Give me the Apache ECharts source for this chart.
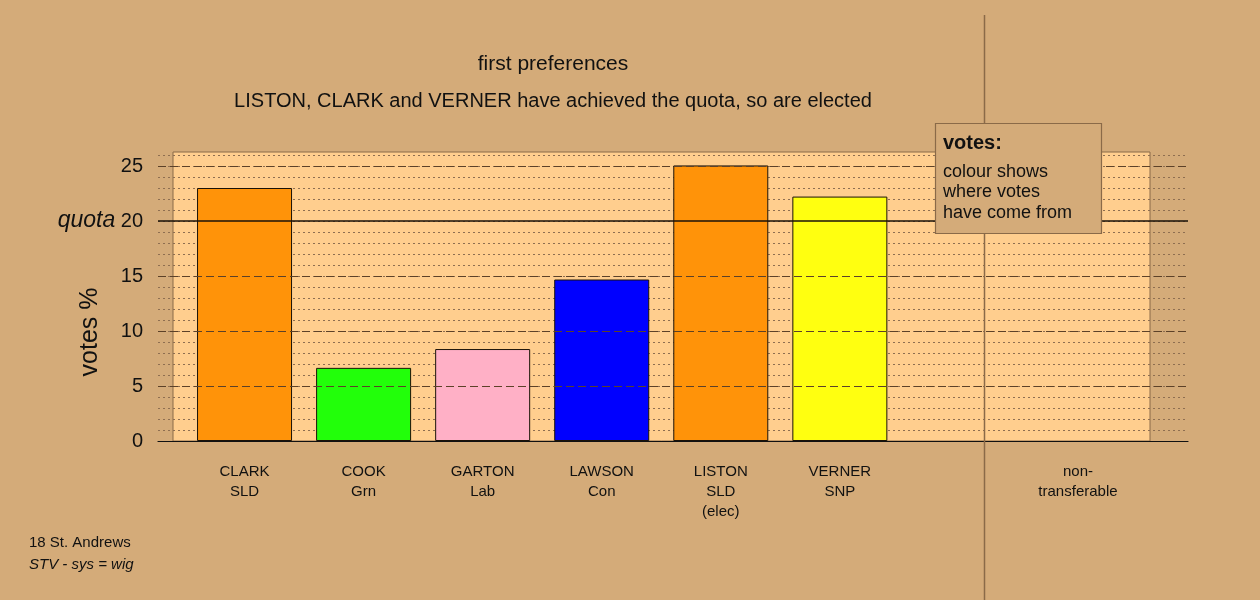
<!DOCTYPE html>
<html>
<head>
<meta charset="utf-8">
<script src="https://cdn.jsdelivr.net/npm/echarts@6/dist/echarts.min.js"></script>
<style>
html,body{margin:0;padding:0;background:#D4AB79;}
#chart{width:1260px;height:600px;}
</style>
</head>
<body>
<div id="chart"></div>
<script>
// ---- data ----
var candidates = ['CLARK\nSLD', 'COOK\nGrn', 'GARTON\nLab', 'LAWSON\nCon', 'LISTON\nSLD\n(elec)', 'VERNER\nSNP', '', 'non-\ntransferable'];
var votes = [23.0, 6.65, 8.36, 14.68, 25.05, 22.22, null, null];
var barColors = ['#FF9309', '#22FF0A', '#FFB0C6', '#0000FF', '#FF9309', '#FFFF10', '#FFFFFF', '#FFFFFF'];
var yTickValues = [0, 5, 10, 15, 20, 25];
var dashedLines = [5, 10, 15, 25];
var quota = 20;
var titleText = 'first preferences';
var subtitleText = 'LISTON, CLARK and VERNER have achieved the quota, so are elected';
var yAxisTitle = 'votes %';
var footer1 = '18 St. Andrews';
var footer2 = 'STV - sys = wig';
var legendTitle = 'votes:';
var legendLines = ['colour shows', 'where votes', 'have come from'];

var BG = '#D4AB79';
var PANEL = '#FFCE8E';
var BROWN = '#8A6A48';
var FONT = '"Liberation Sans", Arial, Helvetica, sans-serif';

var chart = echarts.init(document.getElementById('chart'));

var markData = dashedLines.map(function (v) {
  return { yAxis: v, lineStyle: { type: [8, 4], color: '#5C4128', width: 1 } };
});
markData.push({ yAxis: quota, lineStyle: { type: 'solid', color: '#1a1208', width: 1.6 } });

var option = {
  backgroundColor: BG,
  animation: false,
  textStyle: { fontFamily: FONT },
  grid: [
    { left: 173, right: 110, top: 152, bottom: 159, show: true, backgroundColor: PANEL, borderColor: BROWN, borderWidth: 1 },
    { left: 158, right: 72, top: 155, bottom: 159 },
    { left: 185, right: 122.5, top: 155, bottom: 159 }
  ],
  xAxis: [
    { gridIndex: 0, type: 'value', min: 0, max: 1, show: false },
    { gridIndex: 1, type: 'value', min: 0, max: 1, z: 1,
      axisLine: { show: true, onZero: false, lineStyle: { color: '#111', width: 1.2 } },
      axisTick: { show: false }, axisLabel: { show: false }, splitLine: { show: false } },
    { gridIndex: 2, type: 'category', data: candidates,
      axisLine: { show: false }, axisTick: { show: false }, splitLine: { show: false },
      axisLabel: { interval: 0, margin: 21, fontSize: 15, lineHeight: 20, color: '#111', fontFamily: FONT } }
  ],
  yAxis: [
    { gridIndex: 0, type: 'value', min: 0, max: 1, show: false },
    { gridIndex: 1, type: 'value', min: 0, max: 26, interval: 1, z: 1,
      axisLine: { show: false }, axisTick: { show: false },
      splitLine: { show: true, lineStyle: { type: [2, 3], color: '#8E6E50', width: 1 } },
      axisLabel: {
        margin: 15, fontSize: 20, color: '#111', fontFamily: FONT,
        formatter: function (v) {
          if (v === quota) return '{q|quota} ' + v;
          return yTickValues.indexOf(v) >= 0 ? String(v) : '';
        },
        rich: { q: { fontStyle: 'italic', fontSize: 23, color: '#111', fontFamily: FONT } }
      } },
    { gridIndex: 2, type: 'value', min: 0, max: 26, show: false }
  ],
  series: [
    { type: 'line', xAxisIndex: 1, yAxisIndex: 1, data: [], z: 2,
      markLine: { silent: true, symbol: ['none', 'none'], label: { show: false }, data: markData } },
    { type: 'bar', xAxisIndex: 2, yAxisIndex: 2, barWidth: 95, z: 3,
      data: votes.map(function (v, i) {
        return { value: v, itemStyle: { color: barColors[i], borderColor: '#1a1208', borderWidth: 1 } };
      }) }
  ],
  graphic: [
    { type: 'line', shape: { x1: 984.5, y1: 15, x2: 984.5, y2: 600 }, style: { stroke: BROWN, lineWidth: 1.5 }, z: 10 },
    { type: 'text', x: 553, y: 64, style: { text: titleText, fill: '#111', font: '21px ' + FONT, textAlign: 'center', textVerticalAlign: 'middle' }, z: 10 },
    { type: 'text', x: 553, y: 101, style: { text: subtitleText, fill: '#111', font: '20px ' + FONT, textAlign: 'center', textVerticalAlign: 'middle' }, z: 10 },
    { type: 'text', x: 90, y: 332, rotation: Math.PI / 2, style: { text: yAxisTitle, fill: '#111', font: '25px ' + FONT, textAlign: 'center', textVerticalAlign: 'middle' }, z: 10 },
    { type: 'rect', shape: { x: 935.5, y: 123.5, width: 166, height: 110 }, style: { fill: BG, stroke: BROWN, lineWidth: 1.2 }, z: 20 },
    { type: 'text', x: 943, y: 143, style: { text: legendTitle, fill: '#111', font: 'bold 20px ' + FONT, textVerticalAlign: 'middle' }, z: 21 },
    { type: 'text', x: 943, y: 172, style: { text: legendLines[0], fill: '#111', font: '18px ' + FONT, textVerticalAlign: 'middle' }, z: 21 },
    { type: 'text', x: 943, y: 192, style: { text: legendLines[1], fill: '#111', font: '18px ' + FONT, textVerticalAlign: 'middle' }, z: 21 },
    { type: 'text', x: 943, y: 213, style: { text: legendLines[2], fill: '#111', font: '18px ' + FONT, textVerticalAlign: 'middle' }, z: 21 },
    { type: 'text', x: 29, y: 543, style: { text: footer1, fill: '#111', font: '15px ' + FONT, textVerticalAlign: 'middle' }, z: 10 },
    { type: 'text', x: 29, y: 565, style: { text: footer2, fill: '#111', font: 'italic 15px ' + FONT, textVerticalAlign: 'middle' }, z: 10 }
  ]
};
chart.setOption(option);
</script>
</body>
</html>
